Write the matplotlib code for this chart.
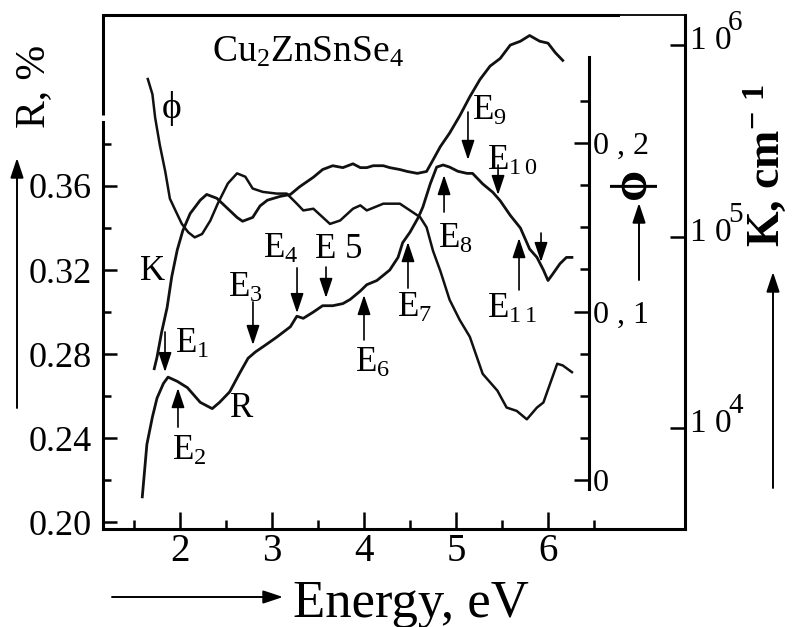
import numpy as np
import matplotlib
matplotlib.use("Agg")
import matplotlib.pyplot as plt
from matplotlib.ticker import FixedLocator, FixedFormatter, NullLocator, NullFormatter

plt.rcParams['font.family'] = ['Liberation Serif', 'DejaVu Serif']
plt.rcParams['mathtext.fontset'] = 'custom'
plt.rcParams['mathtext.rm'] = 'Liberation Serif'
plt.rcParams['mathtext.bf'] = 'Liberation Serif:bold'
plt.rcParams['mathtext.default'] = 'rm'

#---------------DATA------------------
# reflectance R
e_r = [1.59, 1.64, 1.70, 1.75, 1.82, 1.87, 1.97, 2.08, 2.22, 2.35,
       2.43, 2.54, 2.65, 2.74, 2.82, 2.92, 3.05, 3.20, 3.27, 3.34,
       3.45, 3.55, 3.66, 3.77, 3.85, 3.96, 4.03, 4.14, 4.28, 4.37, 4.42,
       4.50, 4.59, 4.64, 4.72, 4.79, 4.86, 4.93, 5.02, 5.12, 5.18,
       5.29, 5.40, 5.48, 5.59, 5.70, 5.80, 5.88, 5.95, 6.00, 6.05,
       6.13, 6.20, 6.26]
r_val = [0.212, 0.237, 0.250, 0.259, 0.266, 0.269, 0.267, 0.264, 0.257, 0.254,
         0.257, 0.262, 0.271, 0.278, 0.281, 0.284, 0.288, 0.293, 0.298, 0.297,
         0.300, 0.303, 0.303, 0.304, 0.306, 0.310, 0.313, 0.315, 0.320, 0.326, 0.333,
         0.338, 0.345, 0.350, 0.361, 0.369, 0.370, 0.369, 0.367, 0.366, 0.366,
         0.361, 0.357, 0.353, 0.346, 0.340, 0.330, 0.326, 0.320, 0.315, 0.318,
         0.323, 0.326, 0.326]

# absorption coefficient K (log10 of cm^-1)
e_k = [1.72, 1.75, 1.80, 1.86, 1.91, 1.97, 2.03, 2.11, 2.22, 2.29,
       2.40, 2.51, 2.62, 2.68, 2.79, 2.87, 2.95, 3.09, 3.20, 3.30,
       3.45, 3.55, 3.66, 3.77, 3.88, 3.96, 4.03, 4.10, 4.21, 4.28,
       4.39, 4.47, 4.58, 4.68, 4.75, 4.83, 4.93, 5.04, 5.15, 5.26,
       5.37, 5.48, 5.59, 5.70, 5.80, 5.91, 6.00, 6.08, 6.16]
log_k = [4.31, 4.37, 4.50, 4.63, 4.79, 4.93, 5.03, 5.12, 5.19, 5.22,
         5.20, 5.15, 5.10, 5.08, 5.10, 5.16, 5.19, 5.21, 5.22, 5.26,
         5.31, 5.35, 5.37, 5.36, 5.38, 5.36, 5.36, 5.37, 5.37, 5.36,
         5.35, 5.34, 5.33, 5.34, 5.40, 5.47, 5.54, 5.63, 5.73, 5.82,
         5.89, 5.93, 6.00, 6.02, 6.05, 6.02, 6.01, 5.96, 5.92]

# phase phi
e_phi = [1.65, 1.70, 1.73, 1.78, 1.84, 1.89, 1.95, 2.02, 2.09, 2.16,
         2.24, 2.33, 2.41, 2.52, 2.62, 2.71, 2.79, 2.90, 3.05, 3.16,
         3.27, 3.34, 3.45, 3.55, 3.63, 3.74, 3.88, 3.96, 4.03, 4.21,
         4.39, 4.50, 4.61, 4.68, 4.75, 4.83, 4.93, 5.04, 5.15, 5.29,
         5.45, 5.55, 5.66, 5.77, 5.88, 5.95, 6.10, 6.16, 6.26]
phi_val = [0.238, 0.229, 0.215, 0.199, 0.183, 0.167, 0.160, 0.152, 0.147, 0.144,
           0.146, 0.154, 0.164, 0.176, 0.182, 0.180, 0.173, 0.171, 0.170, 0.170,
           0.164, 0.160, 0.161, 0.156, 0.152, 0.154, 0.161, 0.163, 0.160, 0.164,
           0.164, 0.160, 0.156, 0.150, 0.136, 0.124, 0.107, 0.095, 0.085, 0.063,
           0.053, 0.043, 0.041, 0.036, 0.043, 0.046, 0.069, 0.068, 0.064]

e_ticks = [2, 3, 4, 5, 6]
e_minor = [1.5, 2.5, 3.5, 4.5, 5.5, 6.5]
r_ticks = [0.20, 0.24, 0.28, 0.32, 0.36]
r_labels = ['0.20', '0.24', '0.28', '0.32', '0.36']
r_minor = [0.22, 0.26, 0.30, 0.34, 0.38]
phi_ticks = [0, 0.1, 0.2]
phi_labels = ['0', '0 , 1', '0 , 2']
phi_minor = [0.025, 0.05, 0.075, 0.125, 0.15, 0.175, 0.225]
k_ticks = [1e4, 1e5, 1e6]
k_exp = ['4', '5', '6']

peak_names = ['E$_1$', 'E$_2$', 'E$_3$', 'E$_4$', 'E 5', 'E$_6$', 'E$_7$',
              'E$_8$', 'E$_9$', r'E$_{1\,0}$', r'E$_{1\,1}$', '']

#---------------VE------------------
W, H = 794, 627
fig = plt.figure(figsize=(W / 100, H / 100), dpi=100)


def fr(x, y):
    return x / W, 1 - y / H


x0, y0 = fr(103, 529)
x1, y1 = fr(685, 15)
rect = [x0, y0, x1 - x0, y1 - y0]
xlim = (1.163, 7.489)
ylim = (0.1967, 0.4414)

# main axes: R
ax = fig.add_axes(rect)
ax.set_xlim(xlim)
ax.set_ylim(ylim)
ax.plot(e_r, r_val, color='#111111', lw=2.0, zorder=3)
for s in ['left', 'bottom', 'top']:
    ax.spines[s].set_linewidth(2.2)
ax.spines['right'].set_visible(False)
# gap in the left frame line, thin end of the top line
ax.spines['left'].set_bounds(ylim[0], 0.3905)
ax.plot([xlim[0], xlim[0]], [0.3938, ylim[1]], color='k', lw=2.2,
        clip_on=False, solid_capstyle='butt')
ax.spines['top'].set_bounds(xlim[0], 6.761)
ax.plot([6.761, xlim[1]], [ylim[1], ylim[1]], color='k', lw=1.3,
        clip_on=False, solid_capstyle='butt')
ax.xaxis.set_major_locator(FixedLocator(e_ticks))
ax.xaxis.set_minor_locator(FixedLocator(e_minor))
ax.yaxis.set_major_locator(FixedLocator(r_ticks))
ax.yaxis.set_major_formatter(FixedFormatter(r_labels))
ax.yaxis.set_minor_locator(FixedLocator(r_minor))
ax.tick_params(axis='x', which='major', direction='in', length=12, width=1.8,
               labelsize=28, pad=3)
ax.tick_params(axis='x', which='minor', direction='in', length=6.5, width=1.8)
ax.tick_params(axis='y', which='major', direction='in', length=10, width=1.8,
               labelsize=26, pad=8)
ax.tick_params(axis='y', which='minor', direction='in', length=6, width=1.8)

# K axis (log)
axk = ax.twinx()
axk.set_yscale('log')
axk.set_ylim(10 ** 3.473, 10 ** 6.157)
axk.plot(e_k, 10 ** np.array(log_k), color='#111111', lw=2.0)
for s in ['left', 'bottom', 'top']:
    axk.spines[s].set_visible(False)
axk.spines['right'].set_linewidth(2.2)
axk.yaxis.set_major_locator(FixedLocator(k_ticks))
axk.yaxis.set_minor_locator(NullLocator())
axk.yaxis.set_major_formatter(NullFormatter())
axk.tick_params(axis='y', direction='in', length=11, width=1.8)
for t, ex in zip(k_ticks, k_exp):
    axk.annotate('1 0', xy=(1, t), xycoords=axk.get_yaxis_transform(),
                 xytext=(5, 4), textcoords='offset pixels',
                 ha='left', va='center', fontsize=24)
    axk.annotate(ex, xy=(1, t), xycoords=axk.get_yaxis_transform(),
                 xytext=(43, 22), textcoords='offset pixels',
                 ha='left', va='center', fontsize=21)

# phi axis (inner)
axp = fig.add_axes(rect, label='phi')
axp.patch.set_visible(False)
axp.set_xlim(xlim)
axp.set_ylim(-0.0291, 0.2760)
axp.plot(e_phi, phi_val, color='#111111', lw=1.8)
for s in ['left', 'bottom', 'top']:
    axp.spines[s].set_visible(False)
axp.spines['right'].set_position(('data', 6.446))
axp.spines['right'].set_bounds(-0.0053, 0.251)
axp.spines['right'].set_linewidth(2.2)
axp.xaxis.set_visible(False)
axp.yaxis.tick_right()
axp.yaxis.set_major_locator(FixedLocator(phi_ticks))
axp.yaxis.set_major_formatter(FixedFormatter(phi_labels))
axp.yaxis.set_minor_locator(FixedLocator(phi_minor))
axp.tick_params(axis='y', which='major', direction='in', length=11, width=1.8,
                labelsize=23, pad=3)
axp.tick_params(axis='y', which='minor', direction='in', length=6.5, width=1.8)

# text on plot
ax.text(2.348, 0.419, r'Cu$_2$ZnSnSe$_4$', fontsize=27, ha='left', va='baseline')
ax.text(1.804, 0.3971, 'ϕ', fontsize=27, ha='left', va='center')
ax.text(1.565, 0.3195, 'K', fontsize=25, ha='left', va='center')
ax.text(2.543, 0.2543, 'R', fontsize=25, ha='left', va='center')

label_pos = [(1.946, 0.2805), (1.913, 0.2295), (2.522, 0.3071), (2.902, 0.3257),
             (3.467, 0.3257), (3.902, 0.2714), (4.359, 0.2976), (4.804, 0.3305),
             (5.174, 0.3914), (5.337, 0.3676), (5.337, 0.2971), (None, None)]
arrows = [(1.837, 0.2905, 0.2714), (1.978, 0.2452, 0.2638), (2.793, 0.3048, 0.2843),
          (3.272, 0.3210, 0.2995), (3.587, 0.3214, 0.3067), (4.0, 0.2867, 0.3081),
          (4.478, 0.3114, 0.3333), (4.870, 0.3476, 0.3652), (5.130, 0.3952, 0.3724),
          (5.457, 0.370, 0.3557), (5.685, 0.3105, 0.3352), (5.924, 0.3376, 0.3238)]
for name, (lx, ly), (axx, a0, a1) in zip(peak_names, label_pos, arrows):
    if name:
        ax.text(lx, ly, name, fontsize=25, ha='left', va='baseline')
    ax.annotate('', xy=(axx, a1), xytext=(axx, a0),
                arrowprops=dict(arrowstyle='-|>,head_length=0.6,head_width=0.2',
                                mutation_scale=20, lw=1.2, color='k',
                                shrinkA=0, shrinkB=0))


# arrows and labels outside the axes
def fig_arrow(xa, ya, xb, yb):
    ax.annotate('', xy=(xb, H - yb), xycoords='figure pixels',
                xytext=(xa, H - ya), textcoords='figure pixels',
                annotation_clip=False,
                arrowprops=dict(arrowstyle='-|>,head_length=0.6,head_width=0.2',
                                mutation_scale=20, lw=1.4, color='k',
                                shrinkA=0, shrinkB=0))


fig_arrow(17, 408, 17, 158)
fig_arrow(112, 597, 283, 597)
fig_arrow(639, 280, 639, 203)
fig_arrow(773, 488, 773, 272)

fig.text(*fr(34, 86), 'R, %', rotation=90, fontsize=30, ha='center', va='center')
fig.text(*fr(293, 617), 'Energy, eV', fontsize=38, ha='left', va='baseline')
fig.text(*fr(766, 166), r'K, cm$^{\mathbf{-}\ \mathbf{1}}$', rotation=90, fontsize=33,
         fontweight='bold', ha='center', va='center')
fig.text(*fr(632, 183), 'ϕ', rotation=90, fontsize=36, fontweight='bold',
         ha='center', va='center')

fig.savefig('out.png', dpi=100, facecolor='white')
